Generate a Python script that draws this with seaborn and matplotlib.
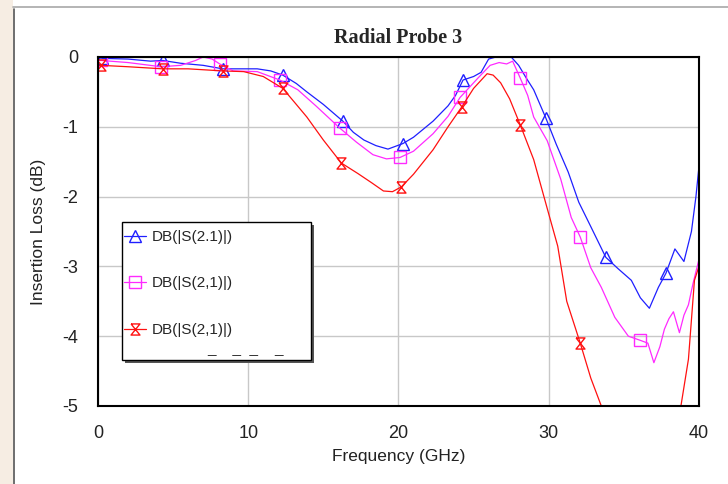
import numpy as np
import pandas as pd
import matplotlib
matplotlib.use("Agg")
import matplotlib.pyplot as plt
from matplotlib.path import Path
from matplotlib.patches import Rectangle
from matplotlib.lines import Line2D
import seaborn as sns

# blue trace (triangles)
freq_blue = [0.0, 0.3, 2.0, 3.5, 4.3, 5.5, 7.0, 8.3, 9.5, 10.6, 11.5, 12.3, 13.2, 13.9,
             15.0, 16.3, 17.0, 17.7, 18.5, 19.3, 20.3, 21.0, 22.3, 23.3, 23.8, 24.3, 25.0,
             25.5, 26.0, 26.5, 27.5, 28.0, 28.5, 29.0, 29.8, 30.5, 31.3, 32.0, 32.8, 33.8,
             34.6, 35.5, 36.1, 36.7, 37.3, 37.8, 38.4, 39.0, 39.5, 39.8, 40.0]
loss_blue = [-0.01, -0.02, -0.03, -0.06, -0.05, -0.09, -0.12, -0.17, -0.17, -0.17, -0.2,
             -0.26, -0.38, -0.5, -0.68, -0.92, -1.08, -1.19, -1.27, -1.32, -1.24, -1.15,
             -0.92, -0.7, -0.55, -0.33, -0.28, -0.22, -0.03, 0.0, 0.0, -0.12, -0.3, -0.47,
             -0.87, -1.25, -1.65, -2.08, -2.43, -2.87, -3.03, -3.2, -3.45, -3.6, -3.3, -3.1,
             -2.75, -2.93, -2.5, -2.0, -1.57]
marks_blue = [0.3, 4.3, 8.3, 12.3, 16.3, 20.3, 24.3, 29.8, 33.8, 37.8]

# magenta trace (squares)
freq_pink = [0.0, 0.2, 2.0, 4.2, 5.5, 6.5, 7.0, 7.6, 8.1, 9.0, 10.6, 12.1, 13.3, 14.5,
             16.1, 17.2, 18.3, 19.2, 20.1, 21.0, 22.3, 23.3, 24.1, 25.3, 26.1, 26.7, 27.2,
             27.6, 28.1, 28.6, 29.0, 29.9, 30.8, 31.5, 32.1, 32.8, 33.5, 34.4, 35.3, 36.1,
             36.6, 37.0, 37.4, 37.7, 38.0, 38.3, 38.7, 39.0, 39.3, 39.6, 40.0]
loss_pink = [-0.05, -0.05, -0.08, -0.14, -0.12, -0.05, 0.0, -0.03, -0.1, -0.2, -0.21,
             -0.33, -0.47, -0.7, -1.02, -1.22, -1.4, -1.46, -1.44, -1.35, -1.1, -0.85,
             -0.58, -0.3, -0.12, -0.08, -0.1, -0.06, -0.3, -0.55, -0.86, -1.2, -1.75, -2.3,
             -2.58, -3.02, -3.3, -3.73, -4.0, -4.06, -4.1, -4.38, -4.15, -3.9, -3.75, -3.65,
             -3.95, -3.7, -3.55, -3.25, -2.9]
marks_pink = [0.2, 4.2, 8.1, 12.1, 16.1, 20.1, 24.1, 28.1, 32.1, 36.1]

# red trace (hourglass)
freq_red = [0.0, 0.2, 2.0, 4.3, 6.0, 8.3, 9.7, 11.0, 12.3, 13.2, 13.9, 15.0, 16.2, 17.3,
            18.2, 19.0, 19.6, 20.2, 21.0, 22.3, 23.3, 24.2, 25.0, 25.9, 26.3, 26.8, 27.4,
            28.1, 29.0, 29.9, 30.6, 31.2, 32.1, 32.8, 33.5, 34.5, 36.0, 37.5, 38.8, 39.3,
            39.7, 40.0]
loss_red = [-0.12, -0.12, -0.14, -0.17, -0.17, -0.2, -0.21, -0.28, -0.45, -0.68, -0.86,
            -1.19, -1.52, -1.67, -1.8, -1.92, -1.93, -1.86, -1.68, -1.33, -1.0, -0.72,
            -0.45, -0.24, -0.26, -0.37, -0.6, -0.97, -1.47, -2.17, -2.71, -3.5, -4.1, -4.6,
            -5.0, -5.6, -6.0, -5.8, -5.0, -4.33, -3.2, -3.0]
marks_red = [0.2, 4.3, 8.3, 12.3, 16.2, 20.2, 24.2, 28.1, 32.1]

labels = ["DB(|S(2.1)|)", "DB(|S(2,1)|)", "DB(|S(2,1)|)"]
colors = ["#1f1fff", "#ff2aff", "#ff1010"]

sns.set_theme(style="whitegrid")
plt.rcParams['font.family'] = ['Liberation Sans', 'DejaVu Sans']
plt.rcParams['axes.unicode_minus'] = False

hourglass = Path([(-0.8, 1), (0.8, 1), (-0.8, -1), (0.8, -1), (-0.8, 1)],
                 [Path.MOVETO, Path.LINETO, Path.LINETO, Path.LINETO, Path.LINETO])
markers = ["^", "s", hourglass]

fig = plt.figure(figsize=(7.28, 4.84), dpi=100)
fig.patch.set_facecolor("white")
ax = fig.add_axes([0.1346, 0.1612, 0.8255, 0.7211])

series = [(freq_blue, loss_blue, marks_blue),
          (freq_pink, loss_pink, marks_pink),
          (freq_red, loss_red, marks_red)]
handles = []
for (fr, db, mk), c, m, lab in zip(series, colors, markers, labels):
    df = pd.DataFrame({"Frequency": fr, "dB": db})
    every = list(np.isin(df["Frequency"], mk))
    sns.lineplot(data=df, x="Frequency", y="dB", ax=ax, color=c, lw=0.9,
                 marker=m, markevery=every, ms=8, mfc="none", mec=c, mew=1,
                 sort=False, estimator=None)
    handles.append(Line2D([], [], color=c, lw=0.9, marker=m, ms=8, mfc="none",
                          mec=c, mew=1, label=lab))

ax.set_xlim(0, 40)
ax.set_ylim(-5, 0)
ax.set_xticks([0, 10, 20, 30, 40])
ax.set_yticks([-5, -4, -3, -2, -1, 0])
ax.grid(True, color="#c8c8c8", lw=1)
for s in ax.spines.values():
    s.set_color("black")
    s.set_linewidth(1.5)
ax.tick_params(length=0, pad=14, labelsize=13, colors="#222222")
ax.set_xlabel("Frequency (GHz)", fontsize=12.5, labelpad=5, color="#222222")
ax.set_ylabel("Insertion Loss (dB)", fontsize=12.5, labelpad=12, color="#222222")

# legend box with drop shadow
ax.add_patch(Rectangle((0.045, 0.123), 0.3145, 0.395, transform=ax.transAxes,
                       facecolor="#555555", edgecolor="none", zorder=4))
ax.add_patch(Rectangle((0.040, 0.132), 0.3145, 0.395, transform=ax.transAxes,
                       facecolor="white", edgecolor="black", lw=1, zorder=4.5))
ax.legend(handles=handles, loc="upper left", bbox_to_anchor=(0.0433, 0.504),
          frameon=False, fontsize=11, borderpad=0, borderaxespad=0,
          handlelength=1.45, handletextpad=0.35, labelspacing=2.12)
ax.text(0.181, 0.165, "_    _  _    _", transform=ax.transAxes, fontsize=11,
        color="#333333", va="center", ha="left", zorder=6)

fig.text(398 / 728, 1 - 38 / 484, "Radial Probe 3", ha="center", va="center",
         family="Liberation Serif", weight="bold", fontsize=14.5)

# window frame
fig.patches.append(Rectangle((0, 0), 13 / 728, 1, transform=fig.transFigure,
                             facecolor="#f6ede3", edgecolor="none"))
fig.add_artist(Line2D([13.5 / 728, 13.5 / 728], [0, 1 - 9 / 484], transform=fig.transFigure,
                      color="#555555", lw=1.2))
fig.add_artist(Line2D([13 / 728, 1], [1 - 7 / 484, 1 - 7 / 484], transform=fig.transFigure,
                      color="#a8a8a8", lw=1.2))

fig.savefig("out.png", dpi=100)
